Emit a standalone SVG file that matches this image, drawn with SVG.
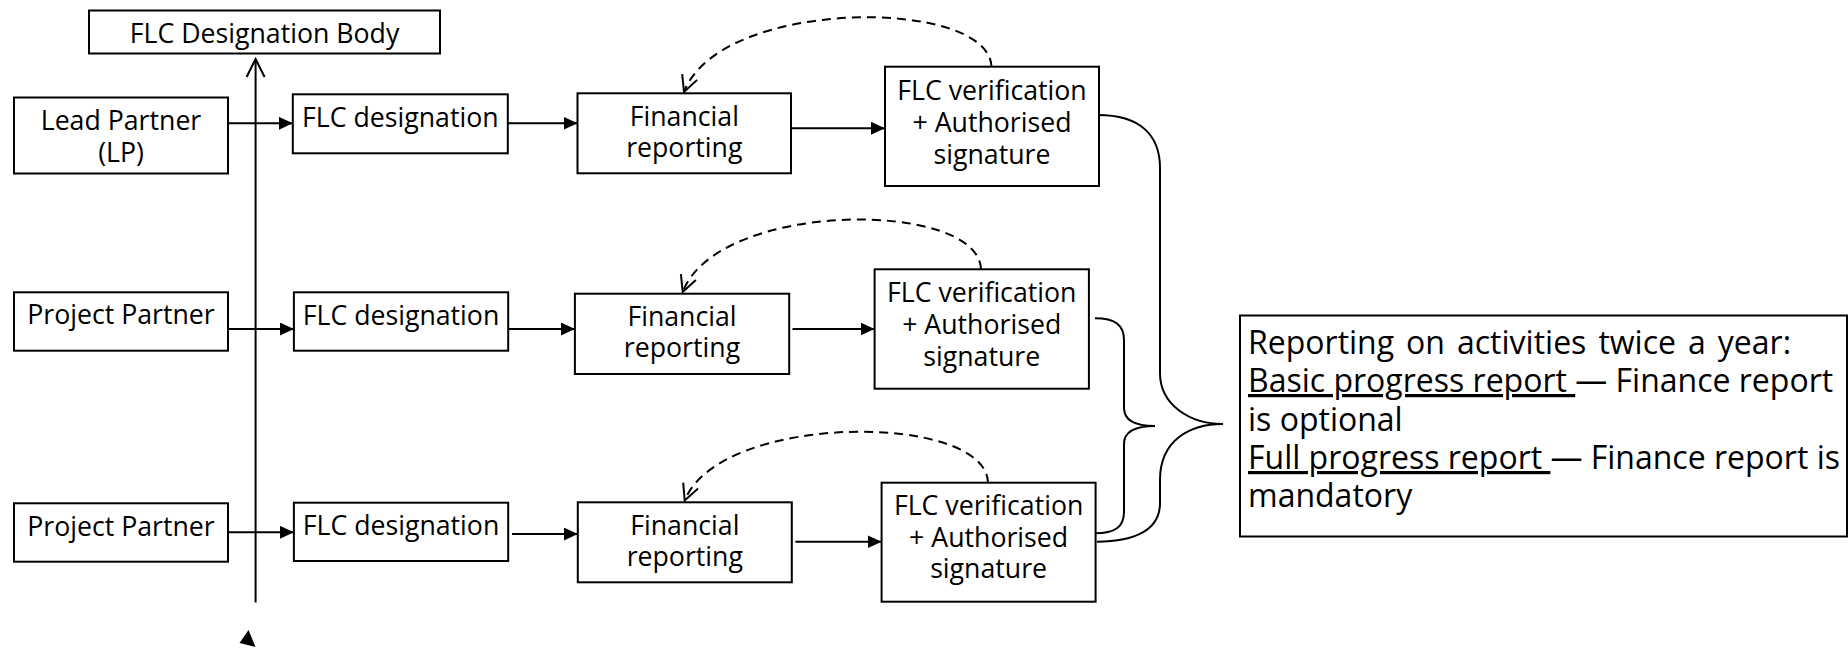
<svg xmlns="http://www.w3.org/2000/svg" width="1848" height="649" viewBox="0 0 1848 649">
<style>
.box{fill:#fff;stroke:#000;stroke-width:2}
.t{font-family:"Open Sans","Noto Sans","DejaVu Sans",sans-serif;font-size:26.7px;fill:#000;text-anchor:middle}
.big{font-family:"Open Sans","Noto Sans","DejaVu Sans",sans-serif;font-size:32px;fill:#000}
.ln{fill:none;stroke:#000;stroke-width:2}
.dash{fill:none;stroke:#000;stroke-width:2;stroke-dasharray:9 6}
</style>
<defs>
<marker id="ah" markerUnits="userSpaceOnUse" markerWidth="16" markerHeight="16" refX="14" refY="6.5" orient="auto">
<path d="M0,0 L14,6.5 L0,13 z" fill="#000"/>
</marker>
<marker id="oh" markerUnits="userSpaceOnUse" markerWidth="20" markerHeight="20" refX="17" refY="9" orient="auto">
<path d="M1,1 L17,9 L1,17" fill="none" stroke="#000" stroke-width="2"/>
</marker>
</defs>
<g id="connectors">
<path class="ln" d="M255.6,602.5 L255.6,59"/>
<path class="ln" d="M246.6,77 L255.6,59 L264.6,77"/>
<polygon points="248.5,630 239.5,643 255.5,647" fill="#000"/>
<path class="ln" d="M228.5,123.3 L292.8,123.3" marker-end="url(#ah)"/>
<path class="ln" d="M508,123.3 L577.5,123.3" marker-end="url(#ah)"/>
<path class="ln" d="M791,128.3 L885,128.3" marker-end="url(#ah)"/>
<path class="ln" d="M228.5,329 L293.9,329" marker-end="url(#ah)"/>
<path class="ln" d="M508.2,329 L574.9,329" marker-end="url(#ah)"/>
<path class="ln" d="M792.5,329 L874.6,329" marker-end="url(#ah)"/>
<path class="ln" d="M228.5,532.3 L293.9,532.3" marker-end="url(#ah)"/>
<path class="ln" d="M512,534 L577.8,534" marker-end="url(#ah)"/>
<path class="ln" d="M795.4,541.7 L881.6,541.7" marker-end="url(#ah)"/>
<path class="dash" d="M991.5,66.7 C989,-3 720,-3 684,92" marker-end="url(#oh)"/>
<path class="dash" d="M981,269.3 C979,199.5 718,199.5 682.7,292" marker-end="url(#oh)"/>
<path class="dash" d="M988,482.7 C986,412 720,412 684.7,500.5" marker-end="url(#oh)"/>
<path class="ln" d="M1098,115 C1140,115 1160,135 1160,168 L1160,373 C1160,405 1190,424 1223,424 C1190,424 1160,440 1160,480 L1160,503 C1160,530 1135,541.7 1097,541.7"/>
<path class="ln" d="M1095,318.3 C1115,318.3 1124,325 1124,340 L1124,408 C1124,420 1135,426 1155,426 C1135,426 1124,432 1124,444 L1124,512 C1124,527 1115,533.3 1095,533.3"/>
</g>
<g id="flc-body"><rect class="box" x="89" y="10.5" width="351" height="43"/><text class="t" x="264.5" y="43">FLC Designation Body</text></g>
<g id="lead-partner"><rect class="box" x="14" y="97.5" width="214" height="76"/><text class="t" x="121" y="130">Lead Partner</text><text class="t" x="121" y="161.5">(LP)</text></g>
<g id="project-partner-2"><rect class="box" x="14" y="292.3" width="214" height="58.4"/><text class="t" x="121" y="323.5">Project Partner</text></g>
<g id="project-partner-3"><rect class="box" x="14" y="503.3" width="214" height="58.4"/><text class="t" x="121" y="536">Project Partner</text></g>
<g id="flc-des-1"><rect class="box" x="292.8" y="94.3" width="215" height="59"/><text class="t" x="400.3" y="127">FLC designation</text></g>
<g id="flc-des-2"><rect class="box" x="293.9" y="292.3" width="214.3" height="58.4"/><text class="t" x="401" y="324.5">FLC designation</text></g>
<g id="flc-des-3"><rect class="box" x="293.9" y="502.7" width="214.3" height="58.3"/><text class="t" x="401" y="535">FLC designation</text></g>
<g id="fin-rep-1"><rect class="box" x="577.5" y="93.3" width="213.5" height="80"/><text class="t" x="684.3" y="125.6">Financial</text><text class="t" x="684.3" y="157">reporting</text></g>
<g id="fin-rep-2"><rect class="box" x="574.9" y="293.7" width="214.3" height="80.3"/><text class="t" x="682" y="326">Financial</text><text class="t" x="682" y="357.4">reporting</text></g>
<g id="fin-rep-3"><rect class="box" x="577.8" y="502.3" width="214" height="80"/><text class="t" x="684.8" y="534.6">Financial</text><text class="t" x="684.8" y="565.7">reporting</text></g>
<g id="flc-ver-1"><rect class="box" x="885" y="66.7" width="214" height="119.3"/><text class="t" x="992" y="100">FLC verification</text><text class="t" x="992" y="132">+ Authorised</text><text class="t" x="992" y="164">signature</text></g>
<g id="flc-ver-2"><rect class="box" x="874.6" y="269.3" width="214.3" height="119.4"/><text class="t" x="981.7" y="302.2">FLC verification</text><text class="t" x="981.7" y="334">+ Authorised</text><text class="t" x="981.7" y="365.8">signature</text></g>
<g id="flc-ver-3"><rect class="box" x="881.6" y="482.7" width="214" height="119"/><text class="t" x="988.6" y="515">FLC verification</text><text class="t" x="988.6" y="546.5">+ Authorised</text><text class="t" x="988.6" y="578">signature</text></g>
<g id="reporting-note"><rect class="box" x="1240" y="315.5" width="607" height="221"/>
<text class="big" x="1248" y="353.5" word-spacing="3.7">Reporting on activities twice a year:</text>
<text class="big" x="1248" y="392"><tspan text-decoration="underline">Basic progress report </tspan>— Finance report</text>
<text class="big" x="1248" y="430.5">is optional</text>
<text class="big" x="1248" y="469"><tspan text-decoration="underline">Full progress report </tspan>— Finance report is</text>
<text class="big" x="1248" y="507">mandatory</text>
</g>
</svg>
